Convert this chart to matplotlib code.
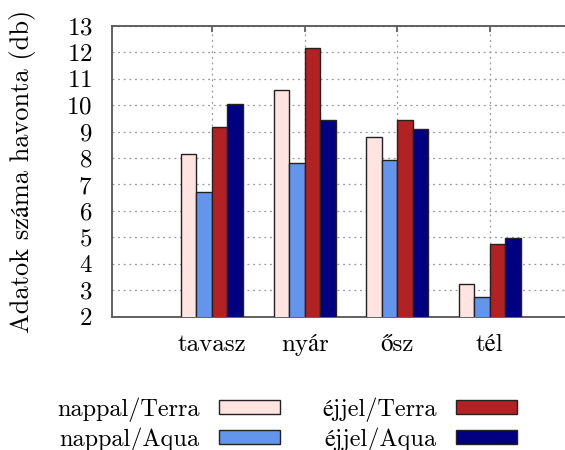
import matplotlib
matplotlib.use("Agg")
import matplotlib.pyplot as plt
import numpy as np

plt.rcParams['font.family'] = ['cmr10', 'STIXGeneral', 'DejaVu Serif']
plt.rcParams['axes.formatter.use_mathtext'] = True
plt.rcParams['mathtext.fontset'] = 'cm'

categories = ['tavasz', 'nyár', 'ősz', 'tél']
series_names = ['nappal/Terra', 'nappal/Aqua', 'éjjel/Terra', 'éjjel/Aqua']
nappal_terra = [8.14, 10.57, 8.79, 3.25]
nappal_aqua = [6.73, 7.81, 7.92, 2.74]
ejjel_terra = [9.16, 12.16, 9.45, 4.74]
ejjel_aqua = [10.03, 9.45, 9.08, 4.99]
yticks = list(range(2, 14))

colors = ['#FFE4E1', '#6495ED', '#B22222', '#000080']
series = [nappal_terra, nappal_aqua, ejjel_terra, ejjel_aqua]

fig = plt.figure(figsize=(5.65, 4.5), dpi=100)
ax = fig.add_axes([0.198, 0.296, 0.802, 0.647])

x = np.arange(len(categories))
w = 0.167
handles = []
for i, (vals, c, name) in enumerate(zip(series, colors, series_names)):
    h = ax.bar(x + (i - 1.5) * w, vals, width=w, bottom=0, color=c,
               edgecolor='#222222', linewidth=1.0, label=name, zorder=3)
    handles.append(h)

ax.set_ylim(2, 13)
ax.set_xlim(-1.08, 3.81)
ax.set_yticks(yticks)
ax.set_xticks(x)
ax.set_xticklabels(categories)
ax.tick_params(axis='both', labelsize=18, direction='in', color='#555555')
ax.tick_params(axis='x', bottom=False, top=True, length=4, width=1.2, pad=12)
ax.tick_params(axis='y', length=0, pad=14)
ax.grid(True, linestyle=(0, (1.5, 3)), color='#999999', linewidth=0.9, zorder=0)
for s in ax.spines.values():
    s.set_color('#555555')
    s.set_linewidth(1.3)
ax.spines['right'].set_visible(False)

ax.set_ylabel('Adatok száma havonta (db)', fontsize=19)
ax.yaxis.set_label_coords(-0.168, 0.5)

fig.legend(handles=handles, loc='center', bbox_to_anchor=(0.508, 0.057),
           ncol=2, frameon=False, fontsize=17.5, markerfirst=False,
           handlelength=2.5, handleheight=0.55, handletextpad=0.8,
           columnspacing=1.75, labelspacing=0.22, borderaxespad=0)

fig.savefig('out.png', dpi=100)
